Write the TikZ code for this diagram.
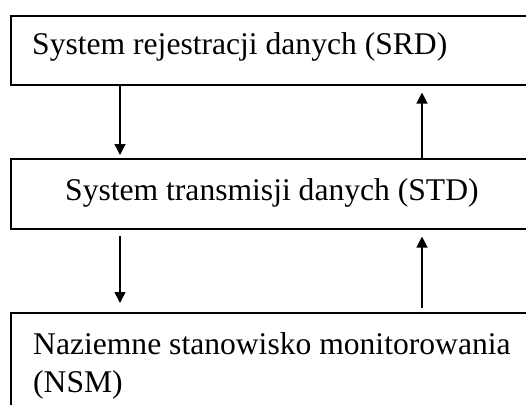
\documentclass[tikz,border=0pt]{standalone}
\usepackage{fontspec}
\setmainfont{Liberation Serif}
\usetikzlibrary{arrows.meta}
\begin{document}
\begin{tikzpicture}[x=1pt,y=-1pt,
  box/.style={draw=black, line width=1.6pt, rectangle, anchor=north west, inner sep=0pt},
  lbl/.style={anchor=base west, inner sep=0pt, font=\fontsize{31.6}{38}\selectfont},
  conn/.style={line width=1.5pt, -{Triangle[length=11pt,width=11pt]}}]
\useasboundingbox (0,0) rectangle (526,404);
\node[box, minimum width=531pt, minimum height=69pt] (srd) at (10,15) {};
\node[box, minimum width=531pt, minimum height=70pt] (std) at (10,158) {};
\node[box, minimum width=531pt, minimum height=110pt] (nsm) at (10,312) {};
\node[lbl] (tsrd) at (32,55) {System rejestracji danych (SRD)};
\node[lbl] (tstd) at (65,200) {System transmisji danych (STD)};
\node[lbl] (tnsm1) at (33,354) {Naziemne stanowisko monitorowania};
\node[lbl] (tnsm2) at (33,392) {(NSM)};
\draw[conn, shorten >=3pt] (srd.south -| 120,0) -- (std.north -| 120,0);
\draw[conn, shorten >=7pt] (std.north -| 422,0) -- (srd.south -| 422,0);
\draw[conn, shorten <=6pt, shorten >=9pt] (std.south -| 120,0) -- (nsm.north -| 120,0);
\draw[conn, shorten <=4pt, shorten >=7pt] (nsm.north -| 422,0) -- (std.south -| 422,0);
\end{tikzpicture}
\end{document}
